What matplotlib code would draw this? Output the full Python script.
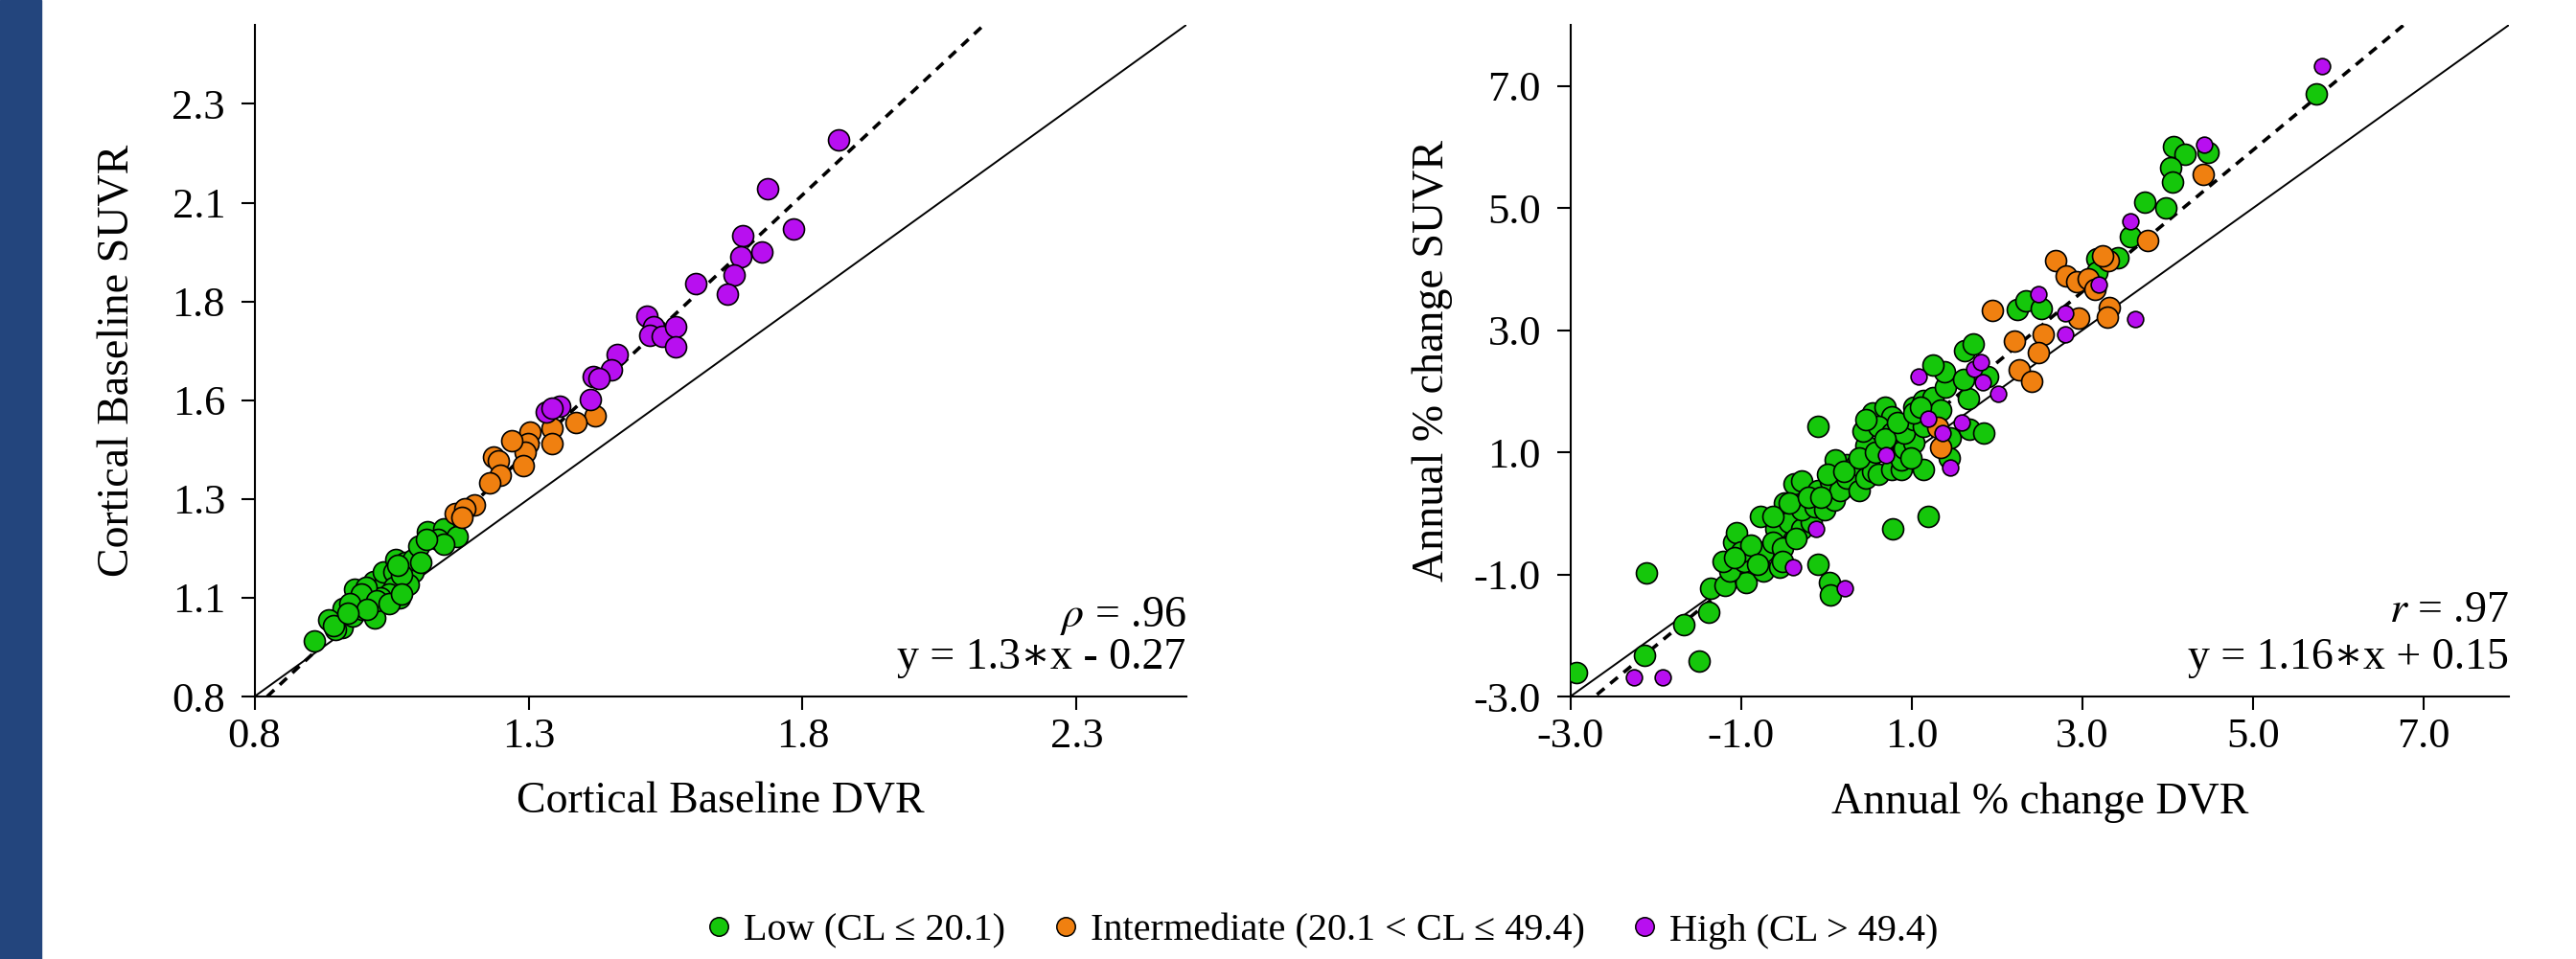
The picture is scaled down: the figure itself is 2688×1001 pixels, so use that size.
import matplotlib
matplotlib.use("Agg")
import matplotlib.pyplot as plt
from matplotlib.lines import Line2D
from matplotlib.patches import Rectangle
import numpy as np

plt.rcParams['font.family'] = ['Liberation Serif', 'DejaVu Serif']
plt.rcParams['mathtext.fontset'] = 'stix'

# ---- datos panel izquierdo (baseline) ----
izq_low_x = [0.909, 0.950, 0.959, 0.947, 0.962, 0.979, 0.985, 1.000, 0.997, 1.020,
             0.982, 1.011, 1.017, 1.038, 1.035, 1.055, 1.058, 1.075, 1.090, 1.090,
             1.055, 1.064, 1.046, 1.029, 1.003, 1.099, 1.116, 1.145, 1.134, 1.169,
             1.145, 1.113, 1.081, 1.069, 0.994, 0.973, 0.935, 0.944, 1.023, 1.046,
             1.069, 1.006, 0.970, 1.104, 1.061]
izq_low_y = [0.940, 0.991, 0.975, 0.971, 1.023, 1.003, 1.051, 1.039, 1.021, 0.999,
             1.072, 1.076, 1.092, 1.092, 1.116, 1.116, 1.148, 1.140, 1.116, 1.148,
             1.076, 1.051, 1.059, 1.051, 1.076, 1.181, 1.217, 1.225, 1.197, 1.205,
             1.185, 1.197, 1.084, 1.108, 1.059, 1.035, 0.995, 0.979, 1.043, 1.035,
             1.059, 1.021, 1.011, 1.140, 1.132]
izq_int_x = [1.421, 1.386, 1.342, 1.342, 1.303, 1.299, 1.294, 1.291, 1.270, 1.237,
             1.245, 1.248, 1.230, 1.201, 1.166, 1.184, 1.178]
izq_int_y = [1.511, 1.494, 1.480, 1.441, 1.470, 1.441, 1.418, 1.384, 1.447, 1.407,
             1.397, 1.361, 1.341, 1.285, 1.264, 1.275, 1.253]
izq_high_x = [1.866, 1.737, 1.783, 1.691, 1.688, 1.725, 1.675, 1.662, 1.605, 1.516,
              1.528, 1.521, 1.543, 1.569, 1.569, 1.461, 1.452, 1.418, 1.428, 1.412,
              1.356, 1.332, 1.342]
izq_high_y = [2.210, 2.086, 1.984, 1.967, 1.914, 1.925, 1.868, 1.819, 1.845, 1.763,
              1.736, 1.715, 1.712, 1.736, 1.686, 1.665, 1.628, 1.609, 1.604, 1.553,
              1.536, 1.520, 1.529]

# ---- datos panel derecho (cambio anual) ----
der_low_x = [-2.927, -2.129, -2.103, -1.493, -1.665, -1.381, -1.354, -1.186, -0.942, -1.130,
             -0.736, -0.549, -0.100, 0.031, 0.050, 0.780, 1.192, -0.095, -1.092, -1.055,
             -1.205, -0.961, -0.736, -0.774, -0.493, -0.381, -0.287, -0.587, -0.437, -0.287,
             -0.175, -0.287, -0.137, -0.025, 0.088, -0.100, 0.050, 0.162, 0.237, 0.387,
             0.237, 0.106, 0.350, 0.462, 0.537, 0.612, 0.762, 0.874, 0.874, 1.136,
             0.912, 1.024, 0.462, 0.425, 0.537, 0.687, 0.762, 0.612, 0.762, 0.912,
             1.024, 1.136, 1.249, 1.024, 1.136, 1.342, 1.436, 1.455, 1.679, 1.840,
             1.661, 1.398, 1.380, 1.249, 1.604, 1.623, 1.717, 1.885, 2.241, 2.335,
             2.522, -1.000, -0.886, -0.624, -0.512, -0.362, -0.624, -0.437, -0.212, -0.062,
             0.013, 0.200, 0.387, 0.574, 0.687, 0.462, 0.837, 0.987, 1.024, 1.099,
             -0.512, -1.074, -0.811, 5.736, 4.470, 4.069, 4.208, 4.032, 4.058, 3.728,
             3.983, 3.560, 3.421, 3.167, 3.167]
der_low_y = [-2.600, -2.326, -0.983, -2.415, -1.825, -1.625, -1.230, -1.178, -1.125, -0.941,
             -0.941, -0.888, -0.835, -1.125, -1.336, -0.246, -0.046, 1.429, -0.467, -0.309,
             -0.783, -0.783, -0.625, -0.046, 0.165, 0.481, 0.533, -0.256, -0.151, -0.256,
             -0.151, 0.060, 0.112, 0.060, 0.218, 0.376, 0.534, 0.376, 0.586, 0.376,
             0.797, 0.876, 0.797, 0.586, 0.692, 0.639, 0.718, 0.718, 0.876, 0.718,
             1.060, 1.166, 1.113, 1.350, 1.640, 1.745, 1.587, 1.429, 1.323, 1.323,
             1.745, 1.850, 1.903, 1.534, 1.429, 1.692, 0.902, 1.245, 1.376, 1.313,
             1.876, 2.071, 2.324, 2.429, 2.192, 2.666, 2.772, 2.245, 3.335, 3.482,
             3.351, -0.625, -0.520, -0.467, -0.572, -0.414, -0.046, 0.165, 0.270, 0.270,
             0.639, 0.692, 0.902, 1.008, 1.218, 1.534, 1.481, 0.902, 1.640, 1.745,
             -0.783, -0.730, -0.836, 6.863, 5.915, 6.010, 5.878, 5.668, 5.431, 5.099,
             5.009, 4.535, 4.193, 4.167, 3.956]
der_int_x = [1.305, 1.342, 1.941, 2.204, 2.541, 2.485, 2.260, 2.410, 4.417, 3.766,
             3.301, 3.242, 2.684, 2.815, 2.934, 3.065, 3.152, 2.953, 3.316, 3.298]
der_int_y = [1.402, 1.087, 3.324, 2.824, 2.930, 2.640, 2.350, 2.166, 5.547, 4.467,
             4.141, 4.220, 4.141, 3.893, 3.788, 3.840, 3.667, 3.193, 3.377, 3.219]
der_high_x = [-2.253, -1.916, -0.392, 0.219, -0.125, 0.698, 1.192, 1.361, 1.455, 1.586,
              1.080, 1.728, 1.829, 2.016, 1.810, 2.485, 2.803, 2.803, 5.811, 4.425,
              3.560, 3.197, 3.616]
der_high_y = [-2.679, -2.689, -0.888, -1.230, -0.256, 0.955, 1.545, 1.313, 0.755, 1.481,
              2.245, 2.366, 2.140, 1.955, 2.482, 3.588, 3.272, 2.930, 7.326, 6.036,
              4.788, 3.746, 3.177]

izq_xticks = [0.8, 1.3, 1.8, 2.3]
izq_xlabels = ["0.8", "1.3", "1.8", "2.3"]
izq_yticks = [0.8, 1.05, 1.3, 1.55, 1.8, 2.05, 2.3]
izq_ylabels = ["0.8", "1.1", "1.3", "1.6", "1.8", "2.1", "2.3"]
der_ticks = [-3, -1, 1, 3, 5, 7]
der_labels = ["-3.0", "-1.0", "1.0", "3.0", "5.0", "7.0"]

VERDE = '#15c70b'
NARANJA = '#f08010'
VIOLETA = '#b80ff0'


def dibujar_panel(ax, lim, grupos, pendiente, ordenada):
    ax.plot(lim, lim, color='black', lw=1.4, zorder=1)
    xs = np.linspace(lim[0], lim[1], 200)
    ax.plot(xs, pendiente * xs + ordenada, color='black', lw=2.6,
            linestyle=(0, (2.8, 2.2)), zorder=1)
    for x, y, color, tam in grupos:
        ax.scatter(x, y, s=tam, c=color, edgecolors='black', linewidths=1.2, zorder=3)
    ax.set_xlim(lim)
    ax.set_ylim(lim)
    for lado in ['top', 'right']:
        ax.spines[lado].set_visible(False)
    for lado in ['left', 'bottom']:
        ax.spines[lado].set_linewidth(1.5)
    ax.tick_params(direction='out', length=10, width=1.5, labelsize=32)
    ax.tick_params(axis='y', pad=12)
    ax.tick_params(axis='x', pad=6)


fig = plt.figure(figsize=(26.88, 10.01), dpi=100)
fig.patches.append(Rectangle((0, 0), 43 / 2688, 1, transform=fig.transFigure,
                             color='#23457d', zorder=0))

ax1 = fig.add_axes([0.0988, 0.2737, 0.3617, 0.7003])
dibujar_panel(ax1, (0.8, 2.5),
              [(izq_low_x, izq_low_y, VERDE, 250),
               (izq_int_x, izq_int_y, NARANJA, 250),
               (izq_high_x, izq_high_y, VIOLETA, 250)], 1.3, -0.27)
ax1.set_xticks(izq_xticks)
ax1.set_xticklabels(izq_xlabels)
ax1.set_yticks(izq_yticks)
ax1.set_yticklabels(izq_ylabels)
ax1.set_xlabel("Cortical Baseline DVR", fontsize=33)
ax1.set_ylabel("Cortical Baseline SUVR", fontsize=33, va='center')
ax1.xaxis.set_label_coords(0.5, -0.127)
ax1.yaxis.set_label_coords(-0.146, 0.5)
ax1.text(1.0, 0.12, r"$\rho$ = .96", transform=ax1.transAxes, ha='right', va='center', fontsize=33)
ax1.text(1.0, 0.058, "y = 1.3\u2217x - 0.27", transform=ax1.transAxes, ha='right', va='center', fontsize=33)

ax2 = fig.add_axes([0.6096, 0.2737, 0.3644, 0.7003])
dibujar_panel(ax2, (-3.0, 8.0),
              [(der_low_x, der_low_y, VERDE, 250),
               (der_int_x, der_int_y, NARANJA, 250),
               (der_high_x, der_high_y, VIOLETA, 145)], 1.16, 0.15)
ax2.set_xticks(der_ticks)
ax2.set_xticklabels(der_labels)
ax2.set_yticks(der_ticks)
ax2.set_yticklabels(der_labels)
ax2.set_xlabel("Annual % change DVR", fontsize=33)
ax2.set_ylabel("Annual % change SUVR", fontsize=33, va='center')
ax2.xaxis.set_label_coords(0.5, -0.127)
ax2.yaxis.set_label_coords(-0.147, 0.5)
ax2.text(1.0, 0.127, r"$r$ = .97", transform=ax2.transAxes, ha='right', va='center', fontsize=33)
ax2.text(1.0, 0.058, "y = 1.16\u2217x + 0.15", transform=ax2.transAxes, ha='right', va='center', fontsize=33)

manijas = [Line2D([], [], marker='o', linestyle='', markersize=14, markerfacecolor=c,
                  markeredgecolor='black', markeredgewidth=1.1)
           for c in [VERDE, NARANJA, VIOLETA]]
etiquetas = ["Low (CL \u2264 20.1)", "Intermediate (20.1 < CL \u2264 49.4)", "High (CL > 49.4)"]
fig.legend(manijas, etiquetas, loc='center', bbox_to_anchor=(0.5135, 0.029), ncol=3,
           frameon=False, fontsize=29, handlelength=0.6, handletextpad=0.35,
           columnspacing=1.25, borderaxespad=0, borderpad=0)

plt.savefig("out.png", dpi=100)
plt.close()
